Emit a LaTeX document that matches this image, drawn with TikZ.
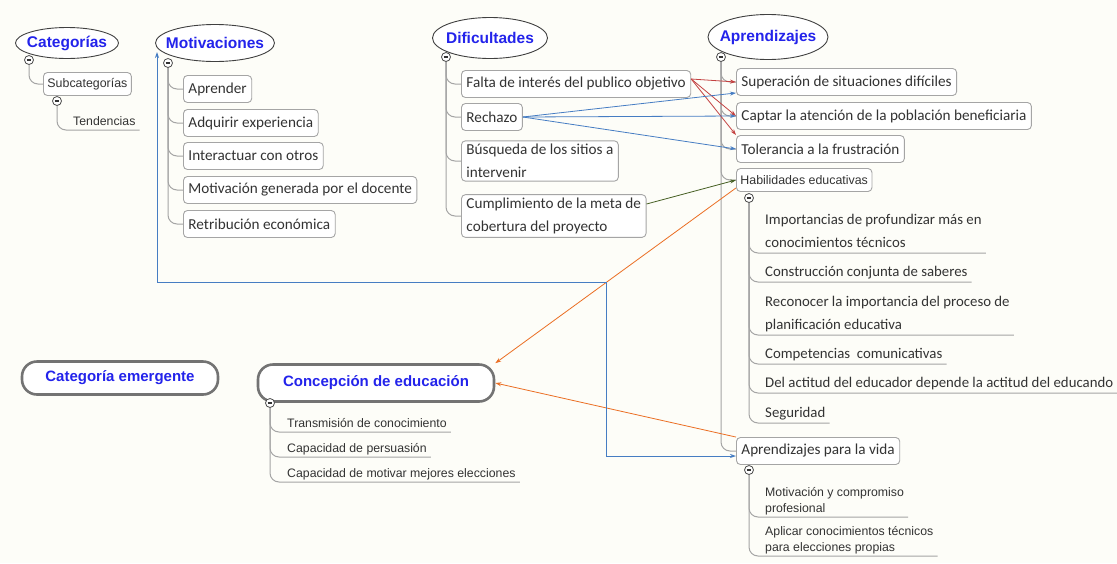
\documentclass[tikz,border=0pt]{standalone}
\usepackage{fontspec}
\setmainfont{Carlito}
\newfontfamily\arialf{Liberation Sans}
\usetikzlibrary{positioning,shapes.geometric,arrows.meta}
\definecolor{bgc}{RGB}{253,253,248}
\definecolor{titblue}{RGB}{35,35,235}
\definecolor{arred}{RGB}{195,65,65}
\definecolor{arblue}{RGB}{70,125,195}
\definecolor{argreen}{RGB}{70,95,35}
\definecolor{arorange}{RGB}{235,110,35}
\definecolor{lgray}{RGB}{165,165,165}

\begin{document}
\begin{tikzpicture}[x=1pt,y=-1pt,
  tit/.style={ellipse,draw=black!75,fill=white,line width=0.9pt,font=\arialf\bfseries\fontsize{15.5}{18}\selectfont,text=titblue,inner xsep=-12pt,inner ysep=-5pt},
  capsl/.style={rounded corners=15pt,draw=black!55,line width=2.6pt,fill=white,font=\arialf\bfseries\fontsize{15}{18}\selectfont,text=titblue},
  box/.style={draw=lgray,fill=white,rounded corners=4pt,line width=0.9pt,anchor=west,inner xsep=5pt,minimum height=27pt,align=left,font=\fontsize{15.2}{23}\selectfont,text=black!80},
  sbox/.style={box,font=\arialf\fontsize{12.4}{16}\selectfont,minimum height=23pt,inner xsep=4pt},
  itm/.style={anchor=south west,inner xsep=4pt,inner ysep=0pt,text depth=5pt,align=left,font=\fontsize{14.8}{23}\selectfont,text=black!80},
  sitm/.style={itm,font=\arialf\fontsize{12.3}{16}\selectfont,text depth=4pt},
  mns/.style={circle,draw=black!70,fill=white,line width=0.8pt,minimum size=9pt,inner sep=0pt,path picture={\draw[line width=1.3pt,black!80] ([xshift=-2.3pt]path picture bounding box.center) -- ([xshift=2.3pt]path picture bounding box.center);}},
  tl/.style={draw=lgray,line width=1pt,rounded corners=9pt},
  arr/.style={-{Stealth[length=6pt,width=4pt]},line width=0.8pt}]
\fill[bgc] (0,0) rectangle (1117,563);
\useasboundingbox (0,0) rectangle (1117,563);

\node[tit,minimum width=103pt,minimum height=31pt] (cat) at (67,43) {Categorías};
\node[sbox] (sub) at (43,84) {Subcategorías};
\node[sitm] (ten) at (69,130) {Tendencias};

\node[tit,minimum width=119pt,minimum height=37pt] (mot) at (215,43) {Motivaciones};
\node[box] (m1) at (183,89) {Aprender};
\node[box] (m2) at (183,123) {Adquirir experiencia};
\node[box] (m3) at (183,156) {Interactuar con otros};
\node[box] (m4) at (183,190) {Motivación generada por el docente};
\node[box] (m5) at (183,224) {Retribución económica};

\node[tit,minimum width=115pt,minimum height=41pt] (dif) at (490,38) {Dificultades};
\node[box] (d1) at (461,84) {Falta de interés del publico objetivo};
\node[box] (d2) at (461,117) {Rechazo};
\node[box] (d3) at (461,161) {Búsqueda de los sitios a\\intervenir};
\node[box] (d4) at (461,216) {Cumplimiento de la meta de\\cobertura del proyecto};

\node[tit,minimum width=120pt,minimum height=45pt] (apr) at (768,37) {Aprendizajes};
\node[box] (a1) at (736,82) {Superación de situaciones difíciles};
\node[box] (a2) at (736,116) {Captar la atención de la población beneficiaria};
\node[box] (a3) at (736,149) {Tolerancia a la frustración};
\node[sbox] (a4) at (736,180) {Habilidades educativas};
\node[box] (a5) at (736,451) {Aprendizajes para la vida};

\node[itm] (h1) at (761,253) {Importancias de profundizar más en\\conocimientos técnicos};
\node[itm] (h2) at (761,282) {Construcción conjunta de saberes};
\node[itm] (h3) at (761,335) {Reconocer la importancia del proceso de\\planificación educativa};
\node[itm] (h4) at (761,364) {Competencias\ \ comunicativas};
\node[itm] (h5) at (761,393) {Del actitud del educador depende la actitud del educando};
\node[itm] (h6) at (761,423) {Seguridad};

\node[sitm] (v1) at (761,517) {Motivación y compromiso\\profesional};
\node[sitm] (v2) at (761,556) {Aplicar conocimientos técnicos\\para elecciones propias};

\node[capsl,minimum width=196pt,minimum height=33pt] (emg) at (120,378) {Categoría emergente};
\node[capsl,minimum width=236pt,minimum height=37pt] (con) at (376,383) {Concepción de educación};
\node[sitm] (c1) at (283,432) {Transmisión de conocimiento};
\node[sitm] (c2) at (283,457) {Capacidad de persuasión};
\node[sitm] (c3) at (283,482) {Capacidad de motivar mejores elecciones};

\draw[tl] (29,60) |- (sub.west);
\draw[tl] (57,101) |- (ten.south east);
\foreach \n in {m1,m2,m3,m4,m5} \draw[tl] (168,63) |- (\n.west);
\foreach \n in {d1,d2,d3,d4} \draw[tl] (446,57) |- (\n.west);
\foreach \n in {a1,a2,a3,a4,a5} \draw[tl] (721,57) |- (\n.west);
\foreach \n in {h1,h2,h3,h4,h5,h6} \draw[tl] (749,198) |- (\n.south east);
\foreach \n in {v1,v2} \draw[tl] (749,470) |- (\n.south east);
\foreach \n in {c1,c2,c3} \draw[tl] (270,403) |- (\n.south east);

\node[mns] (mcat) at (29,60) {};
\node[mns] (msub) at (57,101) {};
\node[mns] (mmot) at (168,63) {};
\node[mns] (mdif) at (446,57) {};
\node[mns] (mapr) at (721,57) {};
\node[mns] (mhab) at (749,198) {};
\node[mns] (mvid) at (749,470) {};
\node[mns] (mcon) at (270,403) {};

\draw[arr,arred] ([yshift=5pt]d1.east) -- (a1.west);
\draw[arr,arred] ([yshift=5pt]d1.east) -- (a2.west);
\draw[arr,arred] ([yshift=5pt]d1.east) -- (a3.north west);
\draw[arr,arblue] (d2.east) -- ([yshift=3pt]a1.south west);
\draw[arr,arblue] (d2.east) -- (a2.west);
\draw[arr,arblue] (d2.east) -- (a3.west);
\draw[arr,argreen] ([yshift=12pt]d4.east) -- (a4.west);
\draw[arr,arorange] ([yshift=4pt]a4.south west) -- (con.north east);
\draw[arr,arorange] (a5.north west) -- (con.east);
\coordinate (mtip) at (157,52);
\coordinate (bend) at (606,282);
\draw[arblue,line width=0.8pt,{Stealth[length=6pt,width=4pt]}-{Stealth[length=6pt,width=4pt]}] (mtip) |- (bend) |- ([yshift=-5pt]a5.west);
\end{tikzpicture}
\end{document}
